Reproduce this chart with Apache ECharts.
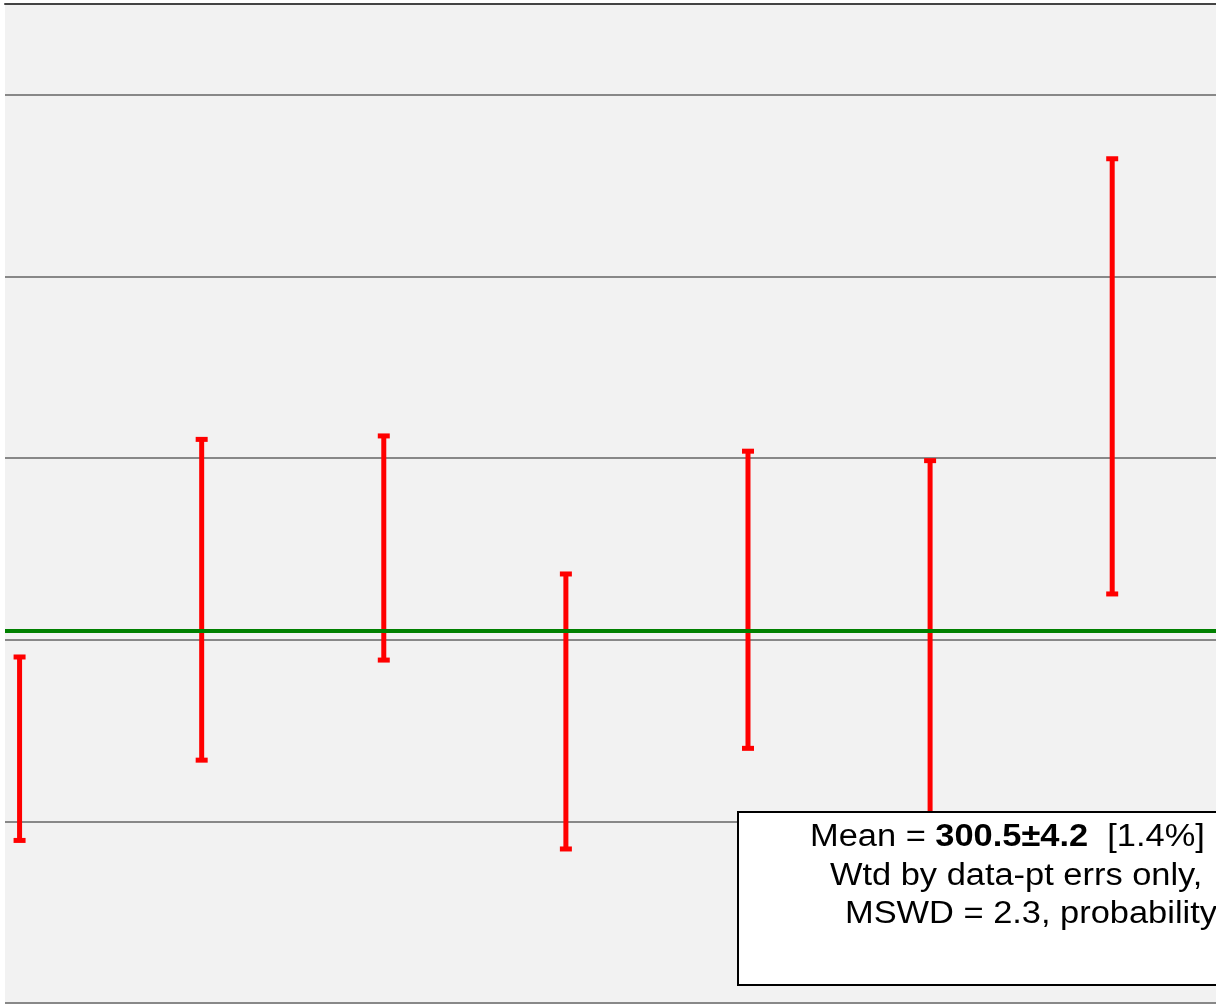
<!DOCTYPE html>
<html>
<head>
<meta charset="utf-8">
<script src="https://cdn.jsdelivr.net/npm/echarts@6/dist/echarts.min.js"></script>
<style>
  html, body { margin: 0; padding: 0; background: #ffffff; }
  #chart { width: 1216px; height: 1004px; }
</style>
</head>
<body>
<div id="chart"></div>
<script>
// Analysis number along x, age centre and 2-sigma error for each spot
const analysisIndex = [1, 2, 3, 4, 5, 6, 7];
const ageValues = [294.0, 302.2, 305.05, 296.05, 302.2, 299.8, 314.5];
const ageErrors = [5.05, 8.83, 6.17, 7.57, 8.18, 10.06, 11.98];

// Weighted mean of the population
const weightedMean = 300.5;

// Axis ranges and gridline step
const xMin = 0.92;
const xMax = 7.57;
const yMin = 280;
const yMax = 335;
const yStep = 10;

// Statistics box lines
const statMeanLabel = 'Mean = ';
const statMeanValue = '300.5±4.2';
const statMeanPct = '  [1.4%]';
const statWeighting = 'Wtd by data-pt errs only,';
const statMswd = 'MSWD = 2.3, probability';

const errorBarData = analysisIndex.map((x, i) => [
  x,
  ageValues[i] - ageErrors[i],
  ageValues[i] + ageErrors[i]
]);

const chart = echarts.init(document.getElementById('chart'), null, { renderer: 'canvas' });

const RED = '#ff0000';
const CAP_HALF = 6;
const TEXT_SIZE = 31;
const TEXT_STRETCH = 1.11;

chart.setOption({
  animation: false,
  backgroundColor: '#ffffff',
  grid: {
    left: 5,
    top: 4,
    right: 0,
    bottom: 1,
    show: true,
    backgroundColor: '#f2f2f2',
    borderWidth: 0
  },
  xAxis: {
    type: 'value',
    position: 'top',
    min: xMin,
    max: xMax,
    axisLine: { show: true, lineStyle: { color: '#444444', width: 2 } },
    axisTick: { show: false },
    axisLabel: { show: false },
    splitLine: { show: false }
  },
  yAxis: {
    type: 'value',
    min: yMin,
    max: yMax,
    interval: yStep,
    axisLine: { show: false },
    axisTick: { show: false },
    axisLabel: { show: false },
    splitLine: { show: true, lineStyle: { color: '#888888', width: 2 } }
  },
  series: [
    {
      type: 'custom',
      z: 3,
      data: errorBarData,
      renderItem: function (params, api) {
        const x = api.value(0);
        const pLo = api.coord([x, api.value(1)]);
        const pHi = api.coord([x, api.value(2)]);
        const barStyle = { stroke: RED, lineWidth: 5 };
        const capStyle = { stroke: RED, lineWidth: 5 };
        return {
          type: 'group',
          children: [
            { type: 'line', shape: { x1: pHi[0], y1: pHi[1], x2: pLo[0], y2: pLo[1] }, style: barStyle },
            { type: 'line', shape: { x1: pHi[0] - CAP_HALF, y1: pHi[1], x2: pHi[0] + CAP_HALF, y2: pHi[1] }, style: capStyle },
            { type: 'line', shape: { x1: pLo[0] - CAP_HALF, y1: pLo[1], x2: pLo[0] + CAP_HALF, y2: pLo[1] }, style: capStyle }
          ]
        };
      }
    },
    {
      type: 'line',
      z: 5,
      data: [],
      markLine: {
        silent: true,
        symbol: ['none', 'none'],
        label: { show: false },
        lineStyle: { color: '#008000', width: 4, type: 'solid' },
        data: [{ yAxis: weightedMean }]
      }
    }
  ],
  graphic: [
    {
      type: 'rect',
      z: 100,
      shape: { x: 738, y: 812, width: 640, height: 173 },
      style: { fill: '#ffffff', stroke: '#000000', lineWidth: 2 }
    },
    {
      type: 'text',
      z: 101,
      x: 810,
      y: 837,
      scaleX: TEXT_STRETCH,
      style: {
        text: '{n|' + statMeanLabel + '}{b|' + statMeanValue + '}{n|' + statMeanPct + '}',
        verticalAlign: 'middle',
        rich: {
          n: { fontFamily: 'Liberation Sans', fontSize: TEXT_SIZE, fill: '#000000' },
          b: { fontFamily: 'Liberation Sans', fontSize: TEXT_SIZE, fontWeight: 'bold', fill: '#000000' }
        }
      }
    },
    {
      type: 'text',
      z: 101,
      x: 830,
      y: 876,
      scaleX: TEXT_STRETCH,
      style: {
        text: statWeighting,
        verticalAlign: 'middle',
        font: TEXT_SIZE + 'px "Liberation Sans"',
        fill: '#000000'
      }
    },
    {
      type: 'text',
      z: 101,
      x: 845,
      y: 914,
      scaleX: TEXT_STRETCH,
      style: {
        text: statMswd,
        verticalAlign: 'middle',
        font: TEXT_SIZE + 'px "Liberation Sans"',
        fill: '#000000'
      }
    }
  ]
});
</script>
</body>
</html>
